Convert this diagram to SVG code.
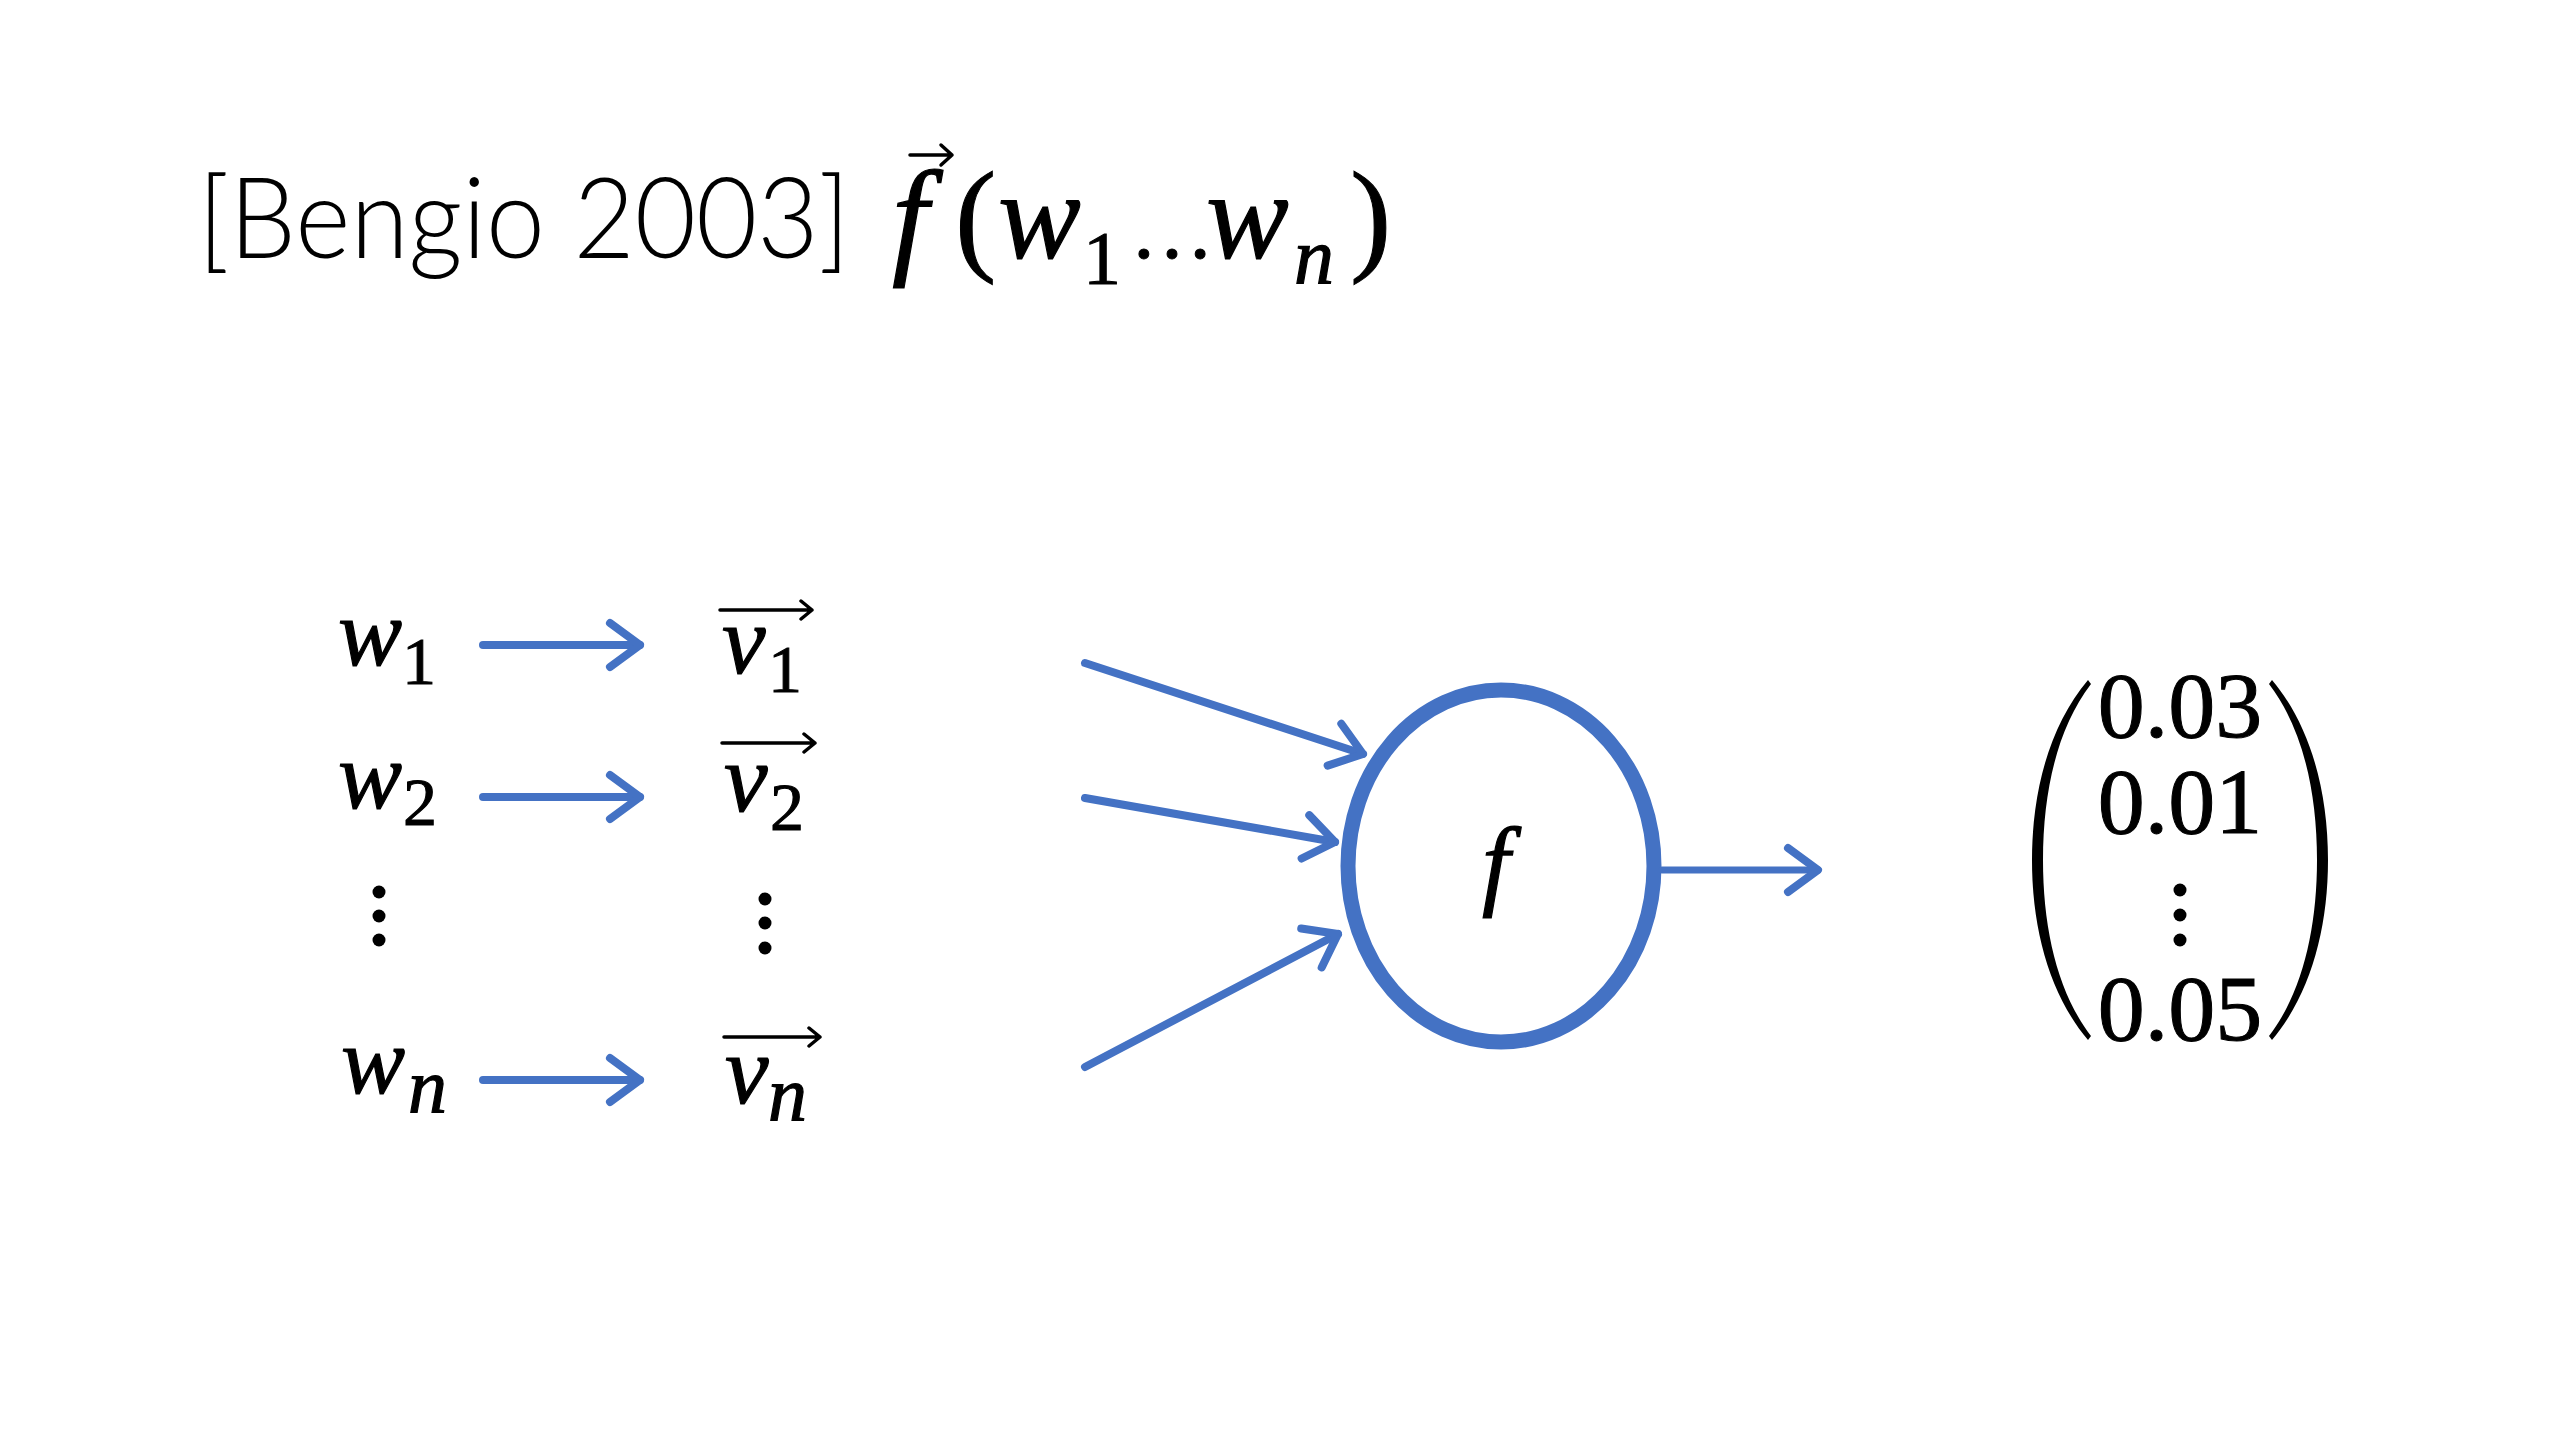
<svg xmlns="http://www.w3.org/2000/svg" width="2560" height="1440" viewBox="0 0 2560 1440">
<style>
.title{font-family:Lato,"Liberation Sans",sans-serif;font-weight:300;font-size:112px;fill:#000}
.mi{font-family:"Liberation Serif",serif;font-style:italic;fill:#000;stroke:#000;stroke-width:1.2}
.mu{font-family:"Liberation Serif",serif;fill:#000;stroke:#000;stroke-width:1}
.conn{fill:none;stroke:#4472C4;stroke-width:8;stroke-linecap:round;marker-end:url(#ah)}
.vec{fill:none;stroke:#000;stroke-width:3.5;stroke-linecap:round;stroke-linejoin:round}
.dot{fill:#000}
</style>
<defs>
<marker id="ah" markerUnits="userSpaceOnUse" markerWidth="80" markerHeight="80" viewBox="-40 -40 80 80" refX="0" refY="0" orient="auto" overflow="visible">
<path d="M-30,-22 L0,0 L-30,22" fill="none" stroke="#4472C4" stroke-width="8" stroke-linecap="round" stroke-linejoin="round"/>
</marker>
</defs>
<rect width="2560" height="1440" fill="#fff"/>

<g id="title">
<text class="title" x="198" y="258" textLength="652" lengthAdjust="spacingAndGlyphs">[Bengio 2003]</text>
<text class="mi" x="892" y="260" font-size="130">f</text>
<path class="vec" d="M910,155 H952 M941,145 L952,155 L941,165"/>
<text class="mu" x="955" y="258" font-size="124">(</text>
<text class="mi" x="998" y="258" font-size="124">w</text>
<text class="mu" x="1083" y="284" font-size="76">1</text>
<text class="mu" x="1130" y="258" font-size="84">…</text>
<text class="mi" x="1206" y="258" font-size="124">w</text>
<text class="mi" x="1294" y="283" font-size="80">n</text>
<text class="mu" x="1350" y="258" font-size="124">)</text>
</g>

<g id="w1"><text class="mi" x="338" y="665" font-size="96">w</text><text class="mu" x="402" y="684" font-size="68">1</text></g>
<g id="w2"><text class="mi" x="338" y="808" font-size="96">w</text><text class="mu" x="403" y="825" font-size="68">2</text></g>
<g id="wdots"><circle class="dot" cx="379" cy="892" r="6.5"/><circle class="dot" cx="379" cy="916" r="6.5"/><circle class="dot" cx="379" cy="940" r="6.5"/></g>
<g id="wn"><text class="mi" x="341" y="1093" font-size="96">w</text><text class="mi" x="408" y="1113" font-size="78">n</text></g>

<g id="v1"><path class="vec" d="M720,610 H812 M801,601 L812,610 L801,619"/><text class="mi" x="722" y="673" font-size="98">v</text><text class="mu" x="768" y="692" font-size="68">1</text></g>
<g id="v2"><path class="vec" d="M722,743 H815 M804,734 L815,743 L804,752"/><text class="mi" x="724" y="811" font-size="98">v</text><text class="mu" x="770" y="830" font-size="68">2</text></g>
<g id="vdots"><circle class="dot" cx="765" cy="899" r="6.5"/><circle class="dot" cx="765" cy="923" r="6.5"/><circle class="dot" cx="765" cy="948" r="6.5"/></g>
<g id="vn"><path class="vec" d="M724,1037 H820 M809,1028 L820,1037 L809,1046"/><text class="mi" x="725" y="1103" font-size="98">v</text><text class="mi" x="768" y="1121" font-size="78">n</text></g>

<g id="f-node">
<ellipse cx="1501" cy="866" rx="153" ry="176" fill="#fff" stroke="#4472C4" stroke-width="15"/>
<text class="mi" x="1482" y="897" font-size="100">f</text>
</g>

<g id="output">
<path d="M2088,680 C2050,725 2032,790 2032,860 C2032,930 2050,995 2088,1040 L2091,1036 C2058,993 2043,930 2043,860 C2043,790 2058,727 2091,684 Z" fill="#000"/>
<path d="M2272,680 C2310,725 2328,790 2328,860 C2328,930 2310,995 2272,1040 L2269,1036 C2302,993 2317,930 2317,860 C2317,790 2302,727 2269,684 Z" fill="#000"/>
<text class="mu" x="2180" y="737" font-size="94" text-anchor="middle">0.03</text>
<text class="mu" x="2180" y="833" font-size="94" text-anchor="middle">0.01</text>
<circle class="dot" cx="2180" cy="890" r="6.5"/><circle class="dot" cx="2180" cy="915" r="6.5"/><circle class="dot" cx="2180" cy="940" r="6.5"/>
<text class="mu" x="2180" y="1040" font-size="94" text-anchor="middle">0.05</text>
</g>

<g id="connectors">
<line class="conn" x1="483" y1="645" x2="640" y2="645"/>
<line class="conn" x1="483" y1="797" x2="640" y2="797"/>
<line class="conn" x1="483" y1="1080" x2="640" y2="1080"/>
<line class="conn" x1="1085" y1="663" x2="1363" y2="754"/>
<line class="conn" x1="1085" y1="798" x2="1335" y2="842"/>
<line class="conn" x1="1085" y1="1067" x2="1338" y2="934"/>
<line class="conn" style="stroke-width:7" x1="1662" y1="870" x2="1818" y2="870"/>
</g>
</svg>
